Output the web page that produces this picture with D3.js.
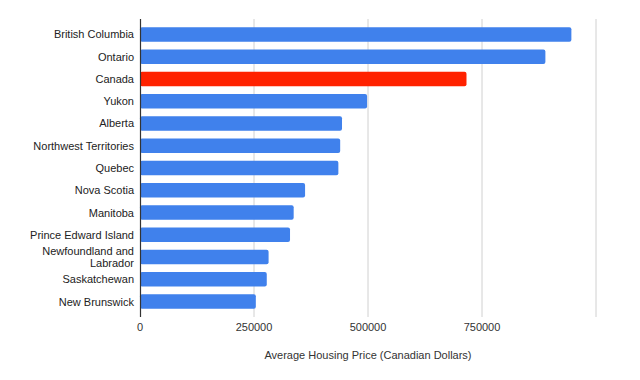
<!DOCTYPE html>
<html>
<head>
<meta charset="utf-8">
<script src="https://cdn.jsdelivr.net/npm/d3@7/dist/d3.min.js"></script>
<style>
  body { margin: 0; background: #fff; }
  svg { display: block; font-family: "Liberation Sans", Arial, sans-serif; }
</style>
</head>
<body>
<svg id="chart" width="640" height="380"></svg>
<script>
const categories = ["British Columbia", "Ontario", "Canada", "Yukon", "Alberta",
  "Northwest Territories", "Quebec", "Nova Scotia", "Manitoba", "Prince Edward Island",
  "Newfoundland and Labrador", "Saskatchewan", "New Brunswick"];
const prices = [946000, 889000, 716000, 498000, 443000, 439000, 435000, 362000,
  337000, 329000, 282000, 278000, 254000];
const highlighted = ["Canada"];
const xTicks = [0, 250000, 500000, 750000, 1000000];
const xTickLabels = ["0", "250000", "500000", "750000", ""];
const xTitle = "Average Housing Price (Canadian Dollars)";

(function () {
const svg = d3.select("#chart");
const plotLeft = 140, plotRight = 596, plotTop = 19, plotBottom = 317;

const x = d3.scaleLinear().domain([0, 1000000]).range([plotLeft, plotRight]);
const y = d3.scaleBand().domain(categories).range([plotTop, plotBottom])
  .paddingInner(0.35).paddingOuter(0.37);

// gridlines
svg.append("g").selectAll("line").data(xTicks.slice(1)).join("line")
  .attr("x1", d => x(d)).attr("x2", d => x(d))
  .attr("y1", plotTop).attr("y2", plotBottom)
  .attr("stroke", "#d0d0d0").attr("stroke-width", 1);

// bars
svg.append("g").selectAll("rect").data(categories).join("rect")
  .attr("x", x(0))
  .attr("y", d => y(d))
  .attr("width", (d, i) => x(prices[i]) - x(0))
  .attr("height", y.bandwidth())
  .attr("rx", 2)
  .attr("fill", d => highlighted.includes(d) ? "#ff2200" : "#4081ec");

// baseline axis
svg.append("line")
  .attr("x1", x(0) + 0.5).attr("x2", x(0) + 0.5)
  .attr("y1", plotTop).attr("y2", plotBottom)
  .attr("stroke", "#333").attr("stroke-width", 1.2);

// category labels
const labels = svg.append("g").selectAll("text").data(categories).join("text")
  .attr("text-anchor", "end")
  .attr("font-size", 11)
  .attr("fill", "#222");
labels.each(function(d) {
  const t = d3.select(this);
  const cy = y(d) + y.bandwidth() / 2;
  if (d === "Newfoundland and Labrador") {
    t.append("tspan").attr("x", 134).attr("y", cy - 6 + 4).text("Newfoundland and");
    t.append("tspan").attr("x", 134).attr("y", cy + 6 + 4).text("Labrador");
  } else {
    t.attr("x", 134).attr("y", cy + 4).text(d);
  }
});

// x tick labels
svg.append("g").selectAll("text").data(xTicks).join("text")
  .attr("x", d => x(d)).attr("y", 331)
  .attr("text-anchor", "middle")
  .attr("font-size", 11).attr("fill", "#333")
  .text((d, i) => xTickLabels[i]);

// x axis title
svg.append("text")
  .attr("x", (plotLeft + plotRight) / 2).attr("y", 359)
  .attr("text-anchor", "middle")
  .attr("font-size", 11).attr("fill", "#333")
  .text(xTitle);
})();
</script>
</body>
</html>
